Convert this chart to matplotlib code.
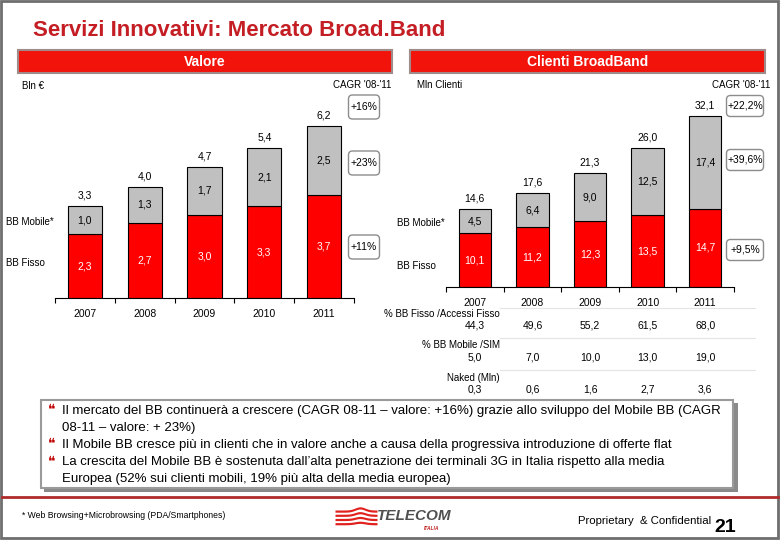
import matplotlib
matplotlib.use("Agg")
import matplotlib.pyplot as plt
import matplotlib.transforms as mtransforms
from matplotlib.patches import Rectangle, FancyBboxPatch
import numpy as np

# --- data ---
years = ["2007", "2008", "2009", "2010", "2011"]
valore_fisso = [2.3, 2.7, 3.0, 3.3, 3.7]
valore_mobile = [1.0, 1.3, 1.7, 2.1, 2.5]
valore_totale = [3.3, 4.0, 4.7, 5.4, 6.2]
clienti_fisso = [10.1, 11.2, 12.3, 13.5, 14.7]
clienti_mobile = [4.5, 6.4, 9.0, 12.5, 17.4]
clienti_totale = [14.6, 17.6, 21.3, 26.0, 32.1]
cagr_valore = ["+16%", "+23%", "+11%"]
cagr_clienti = ["+22,2%", "+39,6%", "+9,5%"]
pct_fisso = [44.3, 49.6, 55.2, 61.5, 68.0]
pct_mobile = [5.0, 7.0, 10.0, 13.0, 19.0]
naked = [0.3, 0.6, 1.6, 2.7, 3.6]

bullets = [
    ["Il mercato del BB continuerà a crescere (CAGR 08-11 – valore: +16%) grazie allo sviluppo del Mobile BB (CAGR",
     "08-11 – valore: + 23%)"],
    ["Il Mobile BB cresce più in clienti che in valore anche a causa della progressiva introduzione di offerte flat"],
    ["La crescita del Mobile BB è sostenuta dall’alta penetrazione dei terminali 3G in Italia rispetto alla media",
     "Europea (52% sui clienti mobili, 19% più alta della media europea)"],
]

RED = "#ff0000"
GREY = "#c0c0c0"
TITLE_RED = "#c41e24"
BANNER_RED = "#f2130b"
FONT = ["Liberation Sans Narrow", "Liberation Sans", "DejaVu Sans"]
plt.rcParams["font.family"] = FONT


def it(v):
    return f"{v:.1f}".replace(".", ",")


fig = plt.figure(figsize=(7.8, 5.4), dpi=100)

# background axes in pixel units (y down) for slide decoration and text
bg = fig.add_axes([0, 0, 1, 1])
bg.set_xlim(0, 780)
bg.set_ylim(540, 0)
bg.axis("off")

bg.add_patch(Rectangle((1, 1), 777, 537, fill=False, ec="#6e6e6e", lw=2))
bg.text(33, 31, "Servizi Innovativi: Mercato Broad.Band", color=TITLE_RED,
        fontsize=16, fontweight="bold", family=["Liberation Sans", "DejaVu Sans"],
        ha="left", va="center")

for x0, x1, label in [(18, 392, "Valore"), (410, 765, "Clienti BroadBand")]:
    bg.add_patch(Rectangle((x0, 50), x1 - x0, 23, fc=BANNER_RED, ec="#a08a8a", lw=1.5))
    bg.text((x0 + x1) / 2, 61.5, label, color="white", fontsize=10, fontweight="bold",
            family=["Liberation Sans", "DejaVu Sans"], ha="center", va="center")

bg.text(22, 86, "Bln €", fontsize=7, ha="left", va="center")
bg.text(391, 85, "CAGR '08-'11", fontsize=7, ha="right", va="center")
bg.text(417, 85, "Mln Clienti", fontsize=7, ha="left", va="center")
bg.text(770, 85, "CAGR '08-'11", fontsize=7, ha="right", va="center")

for x, lab_y in [(6, 222), (397, 223)]:
    bg.text(x, lab_y, "BB Mobile*", fontsize=7, ha="left", va="center")
for x, lab_y in [(6, 263), (397, 266)]:
    bg.text(x, lab_y, "BB Fisso", fontsize=7, ha="left", va="center")


def cagr_box(cx, cy, w, h, label):
    bg.add_patch(FancyBboxPatch((cx - w / 2, cy - h / 2), w, h,
                                boxstyle="round,pad=0,rounding_size=4",
                                fc="white", ec="#8c8c8c", lw=1))
    bg.text(cx, cy, label, fontsize=7.5, ha="center", va="center")


for cy, lab in zip([107, 163, 247], cagr_valore):
    cagr_box(364, cy, 31, 24, lab)
for cy, lab in zip([106, 160, 250], cagr_clienti):
    cagr_box(745, cy, 37, 21, lab)


def stacked(rect, fisso, mobile, totale, top, width):
    ax = fig.add_axes(rect)
    ax.patch.set_alpha(0)
    x = np.arange(len(years))
    ax.bar(x, fisso, width, color=RED, edgecolor="black", lw=0.8)
    ax.bar(x, mobile, width, bottom=fisso, color=GREY, edgecolor="black", lw=0.8)
    for xi, f, m, t in zip(x, fisso, mobile, totale):
        ax.text(xi, f / 2, it(f), ha="center", va="center", color="white", fontsize=7.5)
        ax.text(xi, f + m / 2, it(m), ha="center", va="center", color="black", fontsize=7.5)
        ax.annotate(it(t), (xi, t), xytext=(0, 4), textcoords="offset points",
                    ha="center", va="bottom", fontsize=7.5)
    ax.set_xlim(-0.5, len(years) - 0.5)
    ax.set_ylim(0, top)
    for s in ["left", "right", "top"]:
        ax.spines[s].set_visible(False)
    ax.spines["bottom"].set_linewidth(0.8)
    ax.set_yticks([])
    ax.set_xticks(x, years, fontsize=7.5)
    ax.set_xticks(np.arange(-0.5, len(years)), minor=True)
    ax.tick_params(axis="x", which="major", length=0, pad=8)
    ax.tick_params(axis="x", which="minor", length=3.5, width=0.8, direction="out")
    return ax


# left chart: baseline at 298 px, ~27.8 px per Bln €
stacked([55 / 780, 1 - 298 / 540, 299 / 780, 198 / 540],
        valore_fisso, valore_mobile, valore_totale, 198 / 27.8, 0.57)
# right chart: baseline at 287 px, ~5.33 px per Mln clienti
axr = stacked([446 / 780, 1 - 287 / 540, 288 / 780, 187 / 540],
              clienti_fisso, clienti_mobile, clienti_totale, 187 / 5.33, 0.56)

# table under the right chart, values aligned to the year columns
tr = mtransforms.blended_transform_factory(axr.transData, bg.transData)
rows = [("% BB Fisso /Accessi Fisso", 314, 325, pct_fisso),
        ("% BB Mobile /SIM", 345, 358, pct_mobile),
        ("Naked (Mln)", 378, 389, naked)]
for label, ly, vy, vals in rows:
    bg.text(500, ly, label, fontsize=7, ha="right", va="center")
    for i, v in enumerate(vals):
        bg.text(i, vy, it(v), transform=tr, fontsize=7.5, ha="center", va="center")
for ly in [308, 338, 370]:
    bg.plot([500, 755], [ly, ly], color="#e4e4e4", lw=0.8)

# comment box
bg.add_patch(Rectangle((44, 403), 694, 89, fc="#8a8a8a", ec="none"))
bg.add_patch(Rectangle((41, 400), 692, 88, fc="white", ec="#9a9a9a", lw=1.5))
line_y = 411
for para in bullets:
    bg.text(52, line_y - 1, "❝", color="#c00000", fontsize=10,
            family=["DejaVu Sans"], ha="center", va="center")
    for line in para:
        bg.text(62, line_y, line, fontsize=9.5, ha="left", va="center")
        line_y += 17

# footer
bg.plot([2, 778], [497, 497], color="#b02a2a", lw=2)
bg.text(22, 515, "* Web Browsing+Microbrowsing (PDA/Smartphones)", fontsize=6.2,
        ha="left", va="center")
xs = np.linspace(335, 377, 60)
for k in range(4):
    base = 510 + k * 4.2
    bump = (3.2 - k * 0.6) * np.exp(-((xs - 360) / 7) ** 2)
    bg.fill_between(xs, base - bump, base + 2.2 - bump, color="#e0211d", lw=0)
bg.text(377, 516, "TELECOM", fontsize=11, fontweight="bold", style="italic",
        color="#505050", family=["Liberation Sans", "DejaVu Sans"], ha="left", va="center")
bg.text(432, 528, "ITALIA", fontsize=3.5, fontweight="bold", style="italic",
        color="#c02020", ha="center", va="center")
bg.text(578, 521, "Proprietary  & Confidential", fontsize=8.2, ha="left", va="center")
bg.text(714, 527, "21", fontsize=14, fontweight="bold",
        family=["Liberation Sans", "DejaVu Sans"], ha="left", va="center")

fig.savefig("out.png", dpi=100)
plt.close(fig)
